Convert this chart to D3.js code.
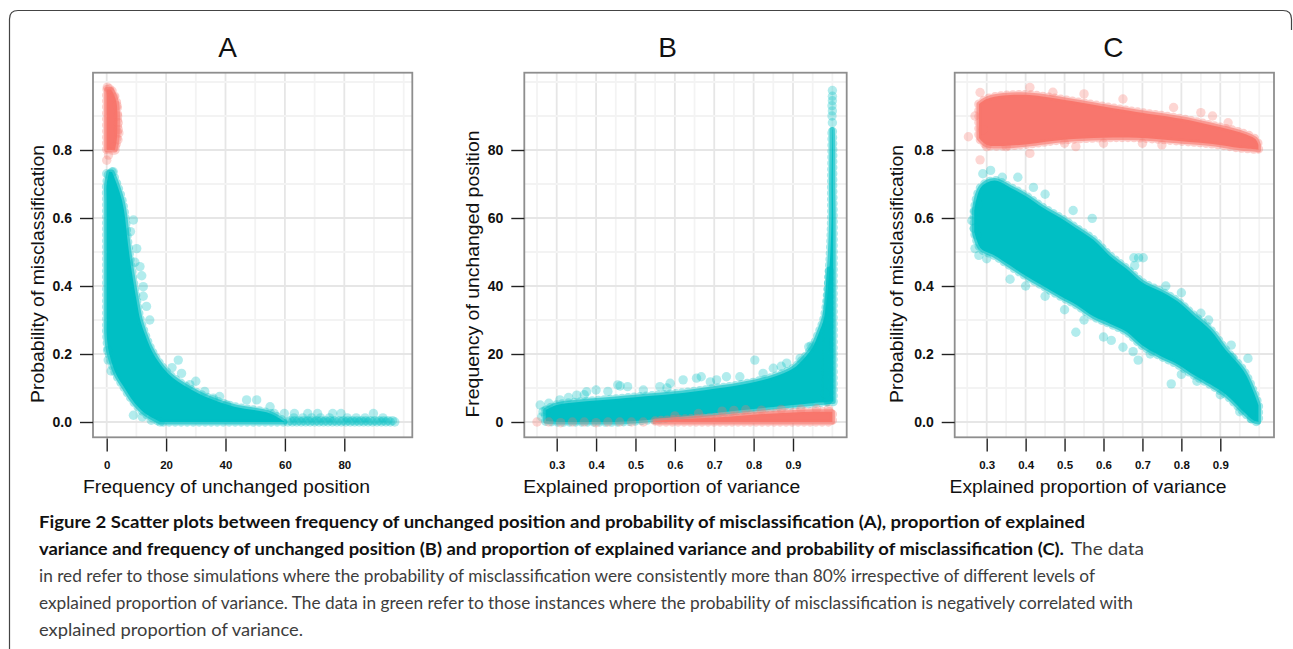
<!DOCTYPE html>
<html>
<head>
<meta charset="utf-8">
<script src="https://cdn.jsdelivr.net/npm/d3@7"></script>
<style>
  body { margin: 0; background: #fff; }
  svg { display: block; }
</style>
</head>
<body>
<div id="fig"></div>
<script>
// ---- data ----

// tick labels
var aXTicks = [0, 20, 40, 60, 80];
var aYTicks = [0, 0.2, 0.4, 0.6, 0.8];
var bXTicks = [0.3, 0.4, 0.5, 0.6, 0.7, 0.8, 0.9];
var bYTicks = [0, 20, 40, 60, 80];
var cXTicks = [0.3, 0.4, 0.5, 0.6, 0.7, 0.8, 0.9];
var cYTicks = [0, 0.2, 0.4, 0.6, 0.8];

// Panel A - dense cores (probability rows, frequency range) and loose points
var aRedBandP  = [0.800, 0.830, 0.870, 0.910, 0.940, 0.960, 0.978];
var aRedBandLo = [0, 0, 0, 0, 0, 0, 0];
var aRedBandHi = [2.8, 3.4, 3.6, 3.6, 3.3, 2.6, 1.5];
var aRedPts = [[3.9,0.86],[3.8,0.83],[3.7,0.90],[3.5,0.93],[0,0.77],[0.6,0.785],[1.4,0.97],
  [2.4,0.955],[3.9,0.88],[2.8,0.81],[0.2,0.985],[4.1,0.85],[0.9,0.98]];

var aCyanBandP  = [0.735, 0.70, 0.65, 0.60, 0.55, 0.50, 0.45, 0.40, 0.35, 0.30, 0.26, 0.22, 0.18, 0.14, 0.10, 0.07, 0.045, 0.025, 0.0];
var aCyanBandLo = [0.8, 0, 0, 0, 0, 0, 0, 0, 0, 0, 0, 0.4, 1.5, 3.2, 6.0, 8.2, 10.5, 13.0, 18.0];
var aCyanBandHi = [1.8, 3.4, 5.2, 6.2, 6.8, 7.5, 8.3, 9.2, 10.2, 11.3, 12.8, 14.6, 17.2, 21.0, 27.5, 34.5, 43.0, 55.0, 60.0];
var aCyanPts = [[9.0,0.594],[10.1,0.51],[11.2,0.457],[12.3,0.398],[12.3,0.37],[13.4,0.34],[8.0,0.56],
  [9.5,0.47],[0,0.73],[2.2,0.736],[0.5,0.182],[0.3,0.21],[1.5,0.15],[24.1,0.182],[25.2,0.143],
  [22,0.16],[30,0.12],[35.9,0.07],[40.4,0.05],[47.1,0.065],[50.5,0.065],[55,0.045],[9,0.02],
  [12,0.015],[18,0.0],[15,0.005],[28,0.11],[33,0.09],[38,0.075],[14.5,0.3],[11.8,0.43],
  [56.4,0.025],[59.8,0.025],[63.2,0.025],[67.7,0.025],[71,0.025],[76.1,0.025],[78.9,0.025],[89.8,0.025],
  [61,0],[62.5,0],[64,0],[65.5,0],[67,0],[68.5,0],[70,0],[71.5,0],[73,0],[74.5,0],[76,0],[77.5,0],
  [79,0],[80.5,0],[82,0],[83.5,0],[85,0],[86.5,0],[88,0],[89.5,0],[91,0],[92.5,0],[94,0],[95.5,0],[97,0],
  [61.7,0.004],[63.2,0.004],[64.7,0.004],[66.2,0.004],[67.7,0.004],[69.2,0.004],[70.7,0.004],[72.2,0.004],
  [73.7,0.004],[75.2,0.004],[76.7,0.004],[78.2,0.004],[79.7,0.004],[81.2,0.004],[82.7,0.004],[84.2,0.004],
  [85.7,0.004],[87.2,0.004],[88.7,0.004],[90.2,0.004],[91.7,0.004],[93.2,0.004],[94.7,0.004],[96.2,0.004],
  [63,0.012],[69,0.012],[75,0.012],[81,0.012],[87,0.012],[93,0.012],[66,0.012],[72,0.012],[84,0.012]];

// Panel B - explained proportion of variance (x) vs frequency of unchanged position (y)
var bCyanBandX  = [0.272, 0.30, 0.35, 0.40, 0.45, 0.50, 0.55, 0.60, 0.65, 0.70, 0.75, 0.80, 0.85, 0.90, 0.93, 0.95, 0.965, 0.98, 0.993];
var bCyanBandLo = [0.2, 0, 0, 0, 0, 0.3, 0.8, 1.4, 2.0, 2.6, 3.2, 3.8, 4.4, 5.0, 5.3, 5.5, 5.7, 5.8, 6.0];
var bCyanBandHi = [3.5, 5.0, 5.8, 6.3, 6.8, 7.3, 7.8, 8.3, 9.0, 9.8, 10.6, 11.7, 13.2, 15.7, 19.0, 22.0, 26.0, 31.0, 45.0];
var bSpikeF  = [6, 20, 40, 50, 60, 70, 80, 86];
var bSpikeLo = [0.985, 0.985, 0.990, 0.995, 0.998, 0.998, 0.999, 0.999];
var bSpikeHi = [1.002, 1.002, 1.002, 1.002, 1.002, 1.001, 1.001, 1.000];
var bCyanPts = [[0.258,5.0],[0.275,3.5],[0.308,6.5],[0.351,7.9],[0.376,8.9],[0.40,9.4],[0.455,10.9],
  [0.461,10.6],[0.48,10.4],[0.52,9.4],[0.562,10.4],[0.588,11.4],[0.621,12.4],[0.655,12.9],[0.667,13.3],
  [0.706,12.4],[0.731,13.3],[0.765,13.3],[0.803,18.2],[0.824,14.3],[0.85,15.8],[0.884,17.3],
  [0.918,18.7],[0.94,22.1],[0.946,22.4],[0.981,8.4],[0.43,9.0],[0.58,10.0],[0.69,11.8],[0.87,16.4],
  [0.262,1.5],[0.265,3.0],[0.28,5.5],[0.33,7.2],[0.37,8.0],
  [1.0,88],[0.999,90],[1.0,91.5],[0.999,93],[1.0,94.5],[1.0,95.8],[1.0,97.5]];
var bRedBandX  = [0.55, 0.60, 0.65, 0.70, 0.75, 0.80, 0.85, 0.90, 0.95, 1.0];
var bRedBandLo = [0, 0, 0, 0, 0, 0, 0, 0, 0, 0];
var bRedBandHi = [0.3, 0.7, 1.0, 1.3, 1.7, 2.1, 2.5, 2.8, 3.0, 3.0];
var bRedPts = [[0.25,0],[0.28,0],[0.31,-0.2],[0.34,0],[0.37,0],[0.40,-0.2],[0.43,0],[0.46,0],
  [0.49,0],[0.52,0],[0.72,3.2],[0.75,3.4],[0.78,3.6],[0.82,3.5],[0.87,3.7],[0.92,3.8],[0.96,3.9],
  [0.99,3.8],[0.66,2.5],[0.60,1.8]];

// Panel C - explained proportion of variance (x) vs probability of misclassification (y)
var cRedBandX  = [0.28, 0.30, 0.343, 0.41, 0.497, 0.60, 0.685, 0.80, 0.88, 0.95, 0.99, 0.998];
var cRedBandLo = [0.835, 0.815, 0.812, 0.818, 0.83, 0.836, 0.836, 0.826, 0.818, 0.806, 0.802, 0.80];
var cRedBandHi = [0.935, 0.95, 0.96, 0.962, 0.948, 0.928, 0.912, 0.892, 0.872, 0.852, 0.832, 0.815];
var cRedPts = [[0.253,0.839],[0.283,0.969],[0.411,0.984],[0.283,0.771],[0.411,0.79],[0.529,0.81],
  [0.47,0.97],[0.55,0.965],[0.65,0.95],[0.78,0.925],[0.85,0.91],[0.88,0.90],[0.92,0.88],[0.60,0.82],
  [0.70,0.82],[0.35,0.81],[0.30,0.81],[0.50,0.82],[0.75,0.815],[0.29,0.86],[0.27,0.90]];

var cCyanBandX  = [0.268, 0.285, 0.32, 0.36, 0.40, 0.445, 0.49, 0.53, 0.575, 0.615, 0.66, 0.70, 0.745, 0.79, 0.83, 0.875, 0.915, 0.96, 0.985, 0.998];
var cCyanBandLo = [0.56, 0.51, 0.49, 0.46, 0.43, 0.40, 0.37, 0.345, 0.31, 0.29, 0.265, 0.225, 0.195, 0.17, 0.14, 0.11, 0.08, 0.03, 0.005, 0.0];
var cCyanBandHi = [0.62, 0.69, 0.71, 0.69, 0.665, 0.63, 0.60, 0.57, 0.535, 0.49, 0.45, 0.41, 0.385, 0.355, 0.315, 0.27, 0.21, 0.15, 0.09, 0.05];
var cCyanPts = [[0.262,0.592],[0.27,0.62],[0.275,0.55],[0.27,0.51],[0.29,0.73],[0.30,0.48],[0.31,0.74],
  [0.34,0.72],[0.38,0.72],[0.42,0.69],[0.45,0.67],[0.522,0.622],[0.571,0.599],[0.678,0.483],[0.69,0.483],
  [0.702,0.483],[0.68,0.46],[0.529,0.264],[0.65,0.22],[0.676,0.207],[0.689,0.182],[0.774,0.112],
  [0.928,0.226],[0.971,0.187],[0.93,0.19],[0.87,0.30],[0.85,0.32],[0.80,0.38],[0.76,0.40],[0.36,0.42],
  [0.40,0.40],[0.45,0.37],[0.50,0.33],[0.55,0.30],[0.60,0.25],[0.62,0.24],[0.72,0.20],[0.80,0.14],
  [0.84,0.12],[0.90,0.08],[0.95,0.03],[0.98,0.01],[0.268,0.57],[0.278,0.64],[0.28,0.49]];

var captionLines = [
  [{b:true, t:"Figure 2 Scatter plots between frequency of unchanged position and probability of misclassification (A), proportion of explained", x0:39, x1:1085}],
  [{b:true, t:"variance and frequency of unchanged position (B) and proportion of explained variance and probability of misclassification (C).", x0:39, x1:1064},
   {b:false, t:"The data", x0:1071, x1:1144}],
  [{b:false, t:"in red refer to those simulations where the probability of misclassification were consistently more than 80% irrespective of different levels of", x0:39, x1:1095}],
  [{b:false, t:"explained proportion of variance. The data in green refer to those instances where the probability of misclassification is negatively correlated with", x0:39, x1:1133}],
  [{b:false, t:"explained proportion of variance.", x0:39, x1:303}]
];

// ---- drawing ----
var RED = "#F8766D", CYAN = "#00BFC4";
var R = 4.7;
var TOP = 72.7, BOTTOM = 437.3;

var svg = d3.select("#fig").append("svg")
    .attr("width", 1293)
    .attr("height", 649);

// figure frame
svg.append("path")
    .attr("d", "M9.5,649 V19 Q9.5,10.5 18,10.5 H1283 Q1291.5,10.5 1291.5,19 V30")
    .attr("fill", "none")
    .attr("stroke", "#444")
    .attr("stroke-width", 1.2);

// dense part of a cloud: solid core, softer rim, scalloped outer edge
function drawBand(g, keys, lo, hi, byX, sx, sy, color) {
    var rows = keys.map(function(k, i){ return {k: k, lo: lo[i], hi: hi[i]}; });
    var area = byX
        ? d3.area().x(function(d){ return sx(d.k); }).y0(function(d){ return sy(d.lo); }).y1(function(d){ return sy(d.hi); })
        : d3.area().y(function(d){ return sy(d.k); }).x0(function(d){ return sx(d.lo); }).x1(function(d){ return sx(d.hi); });
    area.curve(d3.curveCatmullRom);
    g.append("path").datum(rows)
        .attr("d", area)
        .attr("fill", "none")
        .attr("stroke", color)
        .attr("stroke-width", 2 * R)
        .attr("stroke-linecap", "round")
        .attr("stroke-dasharray", "0 6")
        .attr("stroke-opacity", 0.35);
    g.append("path").datum(rows)
        .attr("d", area)
        .attr("fill", color)
        .attr("stroke", color)
        .attr("stroke-width", 5)
        .attr("stroke-linejoin", "round")
        .attr("stroke-opacity", 0.6);
}

function drawPts(g, pts, sx, sy, color) {
    g.selectAll(null).data(pts).enter().append("circle")
        .attr("cx", function(d){ return sx(d[0]); })
        .attr("cy", function(d){ return sy(d[1]); })
        .attr("r", R)
        .attr("fill", color)
        .attr("fill-opacity", 0.3);
}

function panel(p) {
    var x = d3.scaleLinear().domain(p.xRef).range(p.xPix);
    var y = d3.scaleLinear().domain(p.yRef).range([422, 150]);
    var g = svg.append("g");

    // grid: minor then major
    var xStep = (p.xTicks[1] - p.xTicks[0]) / 2, yStep = (p.yTicks[1] - p.yTicks[0]) / 2;
    var x0 = x.invert(p.left), x1 = x.invert(p.right);
    var y0 = y.invert(BOTTOM), y1 = y.invert(TOP);
    var xg = d3.range(Math.ceil(x0 / xStep), Math.floor(x1 / xStep) + 1).map(function(i){ return +(i * xStep).toFixed(4); });
    var yg = d3.range(Math.ceil(y0 / yStep), Math.floor(y1 / yStep) + 1).map(function(i){ return +(i * yStep).toFixed(4); });
    var isMajX = function(v){ return p.xTicks.some(function(t){ return Math.abs(t - v) < 1e-6; }); };
    var isMajY = function(v){ return p.yTicks.some(function(t){ return Math.abs(t - v) < 1e-6; }); };

    g.selectAll(".vg").data(xg).enter().append("line")
        .attr("x1", function(d){ return x(d); }).attr("x2", function(d){ return x(d); })
        .attr("y1", TOP).attr("y2", BOTTOM)
        .attr("stroke", function(d){ return isMajX(d) ? "#e6e6e6" : "#f3f3f3"; })
        .attr("stroke-width", 1.8);
    g.selectAll(".hg").data(yg).enter().append("line")
        .attr("y1", function(d){ return y(d); }).attr("y2", function(d){ return y(d); })
        .attr("x1", p.left).attr("x2", p.right)
        .attr("stroke", function(d){ return isMajY(d) ? "#e6e6e6" : "#f3f3f3"; })
        .attr("stroke-width", 1.8);

    p.draw(g, x, y);

    // box
    g.append("rect")
        .attr("x", p.left).attr("y", TOP)
        .attr("width", p.right - p.left).attr("height", BOTTOM - TOP)
        .attr("fill", "none").attr("stroke", "#8e8e8e").attr("stroke-width", 1.8);

    // axes
    var ya = g.append("g").attr("transform", "translate(" + p.left + ",0)")
        .call(d3.axisLeft(y).tickValues(p.yTicks).tickFormat(p.yFmt).tickSize(13).tickPadding(8));
    var xa = g.append("g").attr("transform", "translate(0,438.5)")
        .call(d3.axisBottom(x).tickValues(p.xTicks).tickFormat(p.xFmt).tickSize(13).tickPadding(9));
    [ya, xa].forEach(function(a){
        a.select(".domain").remove();
        a.selectAll("line").attr("stroke", "#222").attr("stroke-width", 1.4);
        a.selectAll("text").attr("fill", "#111").attr("font-weight", "bold")
            .attr("font-family", "'Liberation Sans', Arial, Helvetica, sans-serif");
    });
    ya.selectAll("text").attr("font-size", "14px");
    xa.selectAll("text").attr("font-size", "11.5px");

    // titles
    g.append("text")
        .attr("x", p.titleX).attr("y", 56.5)
        .attr("text-anchor", "middle")
        .attr("font-family", "'Liberation Sans', Arial, Helvetica, sans-serif")
        .attr("font-size", "28px")
        .attr("fill", "#111")
        .text(p.name);
    g.append("text")
        .attr("x", p.xTitleX).attr("y", 493)
        .attr("text-anchor", "middle")
        .attr("font-family", "'Liberation Sans', Arial, Helvetica, sans-serif")
        .attr("font-size", "18px")
        .attr("fill", "#111")
        .attr("textLength", p.xTitleLen).attr("lengthAdjust", "spacingAndGlyphs")
        .text(p.xTitle);
    g.append("text")
        .attr("transform", "translate(" + p.yTitleX + ",274) rotate(-90)")
        .attr("text-anchor", "middle")
        .attr("font-family", "'Liberation Sans', Arial, Helvetica, sans-serif")
        .attr("font-size", "18px")
        .attr("fill", "#111")
        .attr("textLength", p.yTitleLen).attr("lengthAdjust", "spacingAndGlyphs")
        .text(p.yTitle);
}

panel({
    name: "A", left: 93, right: 412.3,
    xRef: [0, 80], xPix: [106.7, 344.3], yRef: [0, 0.8],
    xTicks: aXTicks, yTicks: aYTicks, xFmt: d3.format("d"), yFmt: d3.format(".1f"),
    titleX: 227.7, xTitleX: 226.5, xTitleLen: 287, yTitleX: 43.5, yTitleLen: 258,
    xTitle: "Frequency of unchanged position", yTitle: "Probability of misclassification",
    draw: function(g, x, y) {
        drawBand(g, aCyanBandP, aCyanBandLo, aCyanBandHi, false, x, y, CYAN);
        drawPts(g, aCyanPts, x, y, CYAN);
        drawBand(g, aRedBandP, aRedBandLo, aRedBandHi, false, x, y, RED);
        drawPts(g, aRedPts, x, y, RED);
    }
});

panel({
    name: "B", left: 524.3, right: 846.7,
    xRef: [0.3, 0.9], xPix: [556.7, 793], yRef: [0, 80],
    xTicks: bXTicks, yTicks: bYTicks, xFmt: d3.format(".1f"), yFmt: d3.format("d"),
    titleX: 667.7, xTitleX: 661.7, xTitleLen: 277, yTitleX: 479, yTitleLen: 287,
    xTitle: "Explained proportion of variance", yTitle: "Frequency of unchanged position",
    draw: function(g, x, y) {
        drawBand(g, bCyanBandX, bCyanBandLo, bCyanBandHi, true, x, y, CYAN);
        drawBand(g, bSpikeF, bSpikeLo, bSpikeHi, false, x, y, CYAN);
        drawPts(g, bCyanPts, x, y, CYAN);
        drawBand(g, bRedBandX, bRedBandLo, bRedBandHi, true, x, y, RED);
        drawPts(g, bRedPts, x, y, RED);
    }
});

panel({
    name: "C", left: 954.7, right: 1274,
    xRef: [0.3, 0.9], xPix: [986.7, 1220.3], yRef: [0, 0.8],
    xTicks: cXTicks, yTicks: cYTicks, xFmt: d3.format(".1f"), yFmt: d3.format(".1f"),
    titleX: 1113.3, xTitleX: 1088, xTitleLen: 277, yTitleX: 903.3, yTitleLen: 258,
    xTitle: "Explained proportion of variance", yTitle: "Probability of misclassification",
    draw: function(g, x, y) {
        drawBand(g, cCyanBandX, cCyanBandLo, cCyanBandHi, true, x, y, CYAN);
        drawPts(g, cCyanPts, x, y, CYAN);
        drawBand(g, cRedBandX, cRedBandLo, cRedBandHi, true, x, y, RED);
        drawPts(g, cRedPts, x, y, RED);
    }
});

// caption
var cap = svg.append("g")
    .attr("font-family", "Lato, 'Noto Sans', sans-serif")
    .attr("font-size", "17.5px");
captionLines.forEach(function(line, i) {
    line.forEach(function(seg) {
        cap.append("text")
            .attr("x", seg.x0)
            .attr("y", 528 + i * 27)
            .attr("font-weight", seg.b ? "bold" : "normal")
            .attr("fill", seg.b ? "#111" : "#3d3d3d")
            .attr("textLength", seg.x1 - seg.x0)
            .attr("lengthAdjust", "spacingAndGlyphs")
            .text(seg.t);
    });
});
</script>
</body>
</html>
